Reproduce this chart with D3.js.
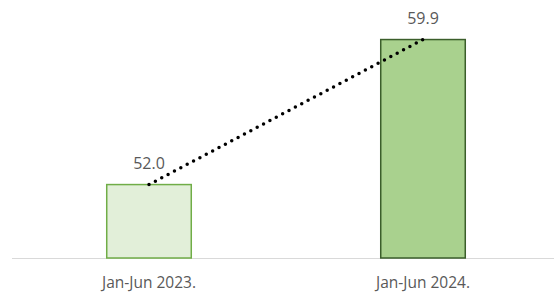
<!DOCTYPE html>
<html>
<head>
<meta charset="utf-8">
<script src="https://cdn.jsdelivr.net/npm/d3@7"></script>
<style>
  body { margin: 0; background: #fff; }
  svg { display: block; }
</style>
</head>
<body>
<script>
var w = 554;
var h = 293;

var periods = ["Jan-Jun 2023.", "Jan-Jun 2024."];
var values = [52.0, 59.9];
var fills = ["#e2efd9", "#a9d18e"];
var strokes = ["#70ad47", "#3b5e2b"];

var x = d3.scaleBand()
  .domain(periods)
  .range([12, 560])
  .paddingInner(0.686)
  .paddingOuter(0.343);

var y = d3.scaleLinear()
  .domain([48, 62])
  .range([258, 1]);

var svg = d3.select("body")
  .append("svg")
    .attr("width", w)
    .attr("height", h);

svg.append("line")
  .attr("x1", 12)
  .attr("x2", w)
  .attr("y1", y(48) + 0.5)
  .attr("y2", y(48) + 0.5)
  .attr("stroke", "#d9d9d9")
  .attr("stroke-width", 1);

svg.selectAll("rect.bar")
  .data(periods)
  .enter()
  .append("rect")
    .attr("class", "bar")
    .attr("x", function(d) { return x(d) + 0.75; })
    .attr("y", function(d, i) { return y(values[i]); })
    .attr("width", x.bandwidth() - 1.5)
    .attr("height", function(d, i) { return y(48) - y(values[i]); })
    .attr("fill", function(d, i) { return fills[i]; })
    .attr("stroke", function(d, i) { return strokes[i]; })
    .attr("stroke-width", 1.5);

var line = d3.line()
  .x(function(d) { return x(d) + x.bandwidth() / 2; })
  .y(function(d, i) { return y(values[i]); });

svg.append("path")
  .datum(periods)
  .attr("d", line)
  .attr("fill", "none")
  .attr("stroke", "#000")
  .attr("stroke-width", 3.5)
  .attr("stroke-linecap", "round")
  .attr("stroke-dasharray", "0 7.2");

svg.selectAll("text.val")
  .data(periods)
  .enter()
  .append("text")
    .attr("class", "val")
    .text(function(d, i) { return values[i].toFixed(1); })
    .attr("x", function(d) { return x(d) + x.bandwidth() / 2; })
    .attr("y", function(d, i) { return y(values[i]) - 16; })
    .attr("text-anchor", "middle")
    .attr("font-family", "'Open Sans', sans-serif")
    .attr("font-size", "16px")
    .attr("fill", "#595959");

svg.selectAll("text.cat")
  .data(periods)
  .enter()
  .append("text")
    .attr("class", "cat")
    .text(function(d) { return d; })
    .attr("x", function(d) { return x(d) + x.bandwidth() / 2; })
    .attr("y", 288)
    .attr("text-anchor", "middle")
    .attr("font-family", "'Open Sans', sans-serif")
    .attr("font-size", "15.5px")
    .attr("fill", "#595959");
</script>
</body>
</html>
